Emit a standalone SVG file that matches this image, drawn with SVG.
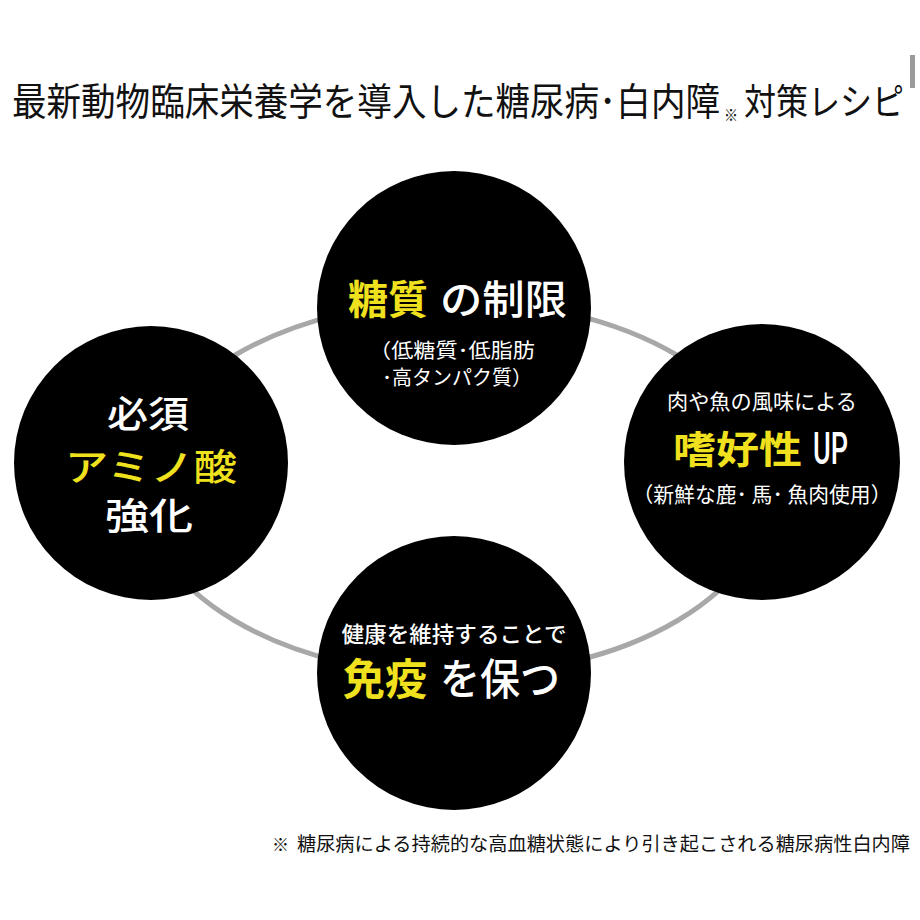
<svg xmlns="http://www.w3.org/2000/svg" width="920" height="920" viewBox="0 0 920 920">
<style>
.jp{font-family:"Noto Sans CJK JP","Noto Sans",sans-serif}
.w{fill:#ffffff}
.y{fill:#f0e11e;font-weight:700}
.k{fill:#111111}
.node{fill:#000000}
.ring{fill:none;stroke:#a8a8a8;stroke-width:5}
</style>
<rect x="0" y="0" width="920" height="920" fill="#ffffff"/>
<g id="title" class="jp k" transform="translate(0,115) scale(1,1.15)">
<text x="12" y="0" font-size="33" textLength="708" lengthAdjust="spacingAndGlyphs">最新動物臨床栄養学を導入した糖尿病･白内障</text>
<text x="724" y="5" font-size="14">※</text>
<text x="744" y="0" font-size="32" textLength="160" lengthAdjust="spacingAndGlyphs">対策レシピ</text>
</g>
<rect x="910" y="55" width="5" height="33" fill="#9a9a9a"/>
<g id="connectors">
<ellipse class="ring" cx="456" cy="488" rx="314" ry="187"/>
</g>
<g id="node-top">
<circle class="node" cx="454" cy="308" r="137"/>
<text class="jp y" x="348" y="314" font-size="40" textLength="80" lengthAdjust="spacingAndGlyphs">糖質</text>
<text class="jp w" x="440" y="314" font-size="40" font-weight="500" textLength="127" lengthAdjust="spacingAndGlyphs">の制限</text>
<text class="jp w" x="452" y="358" font-size="20" text-anchor="middle" textLength="166" lengthAdjust="spacingAndGlyphs">（低糖質･低脂肪</text>
<text class="jp w" x="457" y="385" font-size="20" text-anchor="middle" textLength="150" lengthAdjust="spacingAndGlyphs">･高タンパク質）</text>
</g>
<g id="node-left">
<circle class="node" cx="151" cy="463" r="137"/>
<text class="jp w" x="148" y="428" font-size="37" font-weight="500" text-anchor="middle" textLength="82" lengthAdjust="spacingAndGlyphs">必須</text>
<text class="jp y" x="151" y="481" font-size="37" text-anchor="middle" textLength="172" lengthAdjust="spacingAndGlyphs" style="font-weight:500">アミノ酸</text>
<text class="jp w" x="149" y="530" font-size="37" font-weight="500" text-anchor="middle" textLength="88" lengthAdjust="spacingAndGlyphs">強化</text>
</g>
<g id="node-right">
<circle class="node" cx="762" cy="462" r="138"/>
<text class="jp w" x="762" y="409" font-size="21" text-anchor="middle" textLength="190" lengthAdjust="spacingAndGlyphs">肉や魚の風味による</text>
<text class="jp y" x="673" y="463" font-size="38" textLength="129" lengthAdjust="spacingAndGlyphs">嗜好性</text>
<text x="813" y="464" font-family="Roboto,'Noto Sans',sans-serif" font-size="44" font-weight="500" fill="#ffffff" textLength="35" lengthAdjust="spacingAndGlyphs">UP</text>
<text class="jp w" x="762" y="502" font-size="21" text-anchor="middle" textLength="259" lengthAdjust="spacingAndGlyphs">（新鮮な鹿･ 馬･ 魚肉使用）</text>
</g>
<g id="node-bottom">
<circle class="node" cx="454" cy="673" r="137"/>
<text class="jp w" x="454" y="642" font-size="22" font-weight="500" text-anchor="middle" textLength="225" lengthAdjust="spacingAndGlyphs">健康を維持することで</text>
<text class="jp y" x="343" y="695" font-size="43" textLength="84" lengthAdjust="spacingAndGlyphs">免疫</text>
<text class="jp w" x="440" y="695" font-size="43" font-weight="500" textLength="120" lengthAdjust="spacingAndGlyphs">を保つ</text>
</g>
<g id="footnote" class="jp k">
<text x="272" y="851" font-size="17">※</text>
<text x="297" y="851" font-size="19" textLength="613" lengthAdjust="spacingAndGlyphs">糖尿病による持続的な高血糖状態により引き起こされる糖尿病性白内障</text>
</g>
</svg>
